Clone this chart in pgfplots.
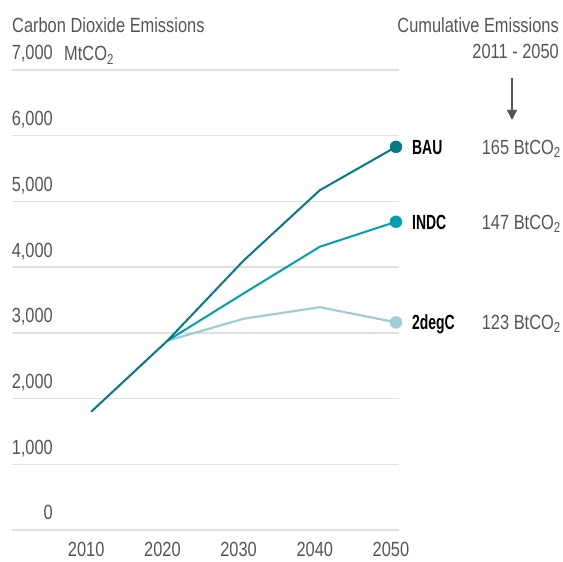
\documentclass[border=0pt]{standalone}
\usepackage{pgfplots}
\pgfplotsset{compat=1.18}
\usetikzlibrary{arrows.meta}
\usepackage{fontspec}
\setmainfont{Liberation Sans}[FakeStretch=0.8, BoldFeatures={FakeStretch=0.68}]
\definecolor{txt}{RGB}{85,85,85}
\definecolor{grid}{RGB}{224,224,224}
\definecolor{bau}{RGB}{0,122,132}
\definecolor{indc}{RGB}{0,160,176}
\definecolor{deg}{RGB}{160,204,214}
\begin{document}
\begin{tikzpicture}[font=\fontsize{20.5}{24}\selectfont, text=txt]
\useasboundingbox (0,0) rectangle (563pt,562pt);
\begin{axis}[
  at={(12pt,32pt)}, anchor=south west,
  scale only axis, width=387pt, height=460pt,
  xmin=1999.6, xmax=2050.4, ymin=0, ymax=7000,
  clip=false,
  axis line style={draw=none},
  major tick length=0pt,
  ymajorgrids, grid style={draw=grid, line width=1.3pt},
  ytick={0,1000,2000,3000,4000,5000,6000,7000},
  yticklabels={0,{1,000},{2,000},{3,000},{4,000},{5,000},{6,000},{7,000}},
  xtick={2010,2020,2030,2040,2050},
  xticklabels={2010,2020,2030,2040,2050},
  yticklabel style={inner sep=0pt, anchor=base east, xshift=41pt, yshift=10pt, text=txt},
  xticklabel style={inner sep=0pt, anchor=base, xshift=-5pt, yshift=-27pt, text=txt},
]
\addplot[deg, line width=2.2pt] coordinates {(2020,2880)(2030,3215)(2040,3390)(2050,3160)};
\addplot[indc, line width=2pt] coordinates {(2020,2880)(2030,3600)(2040,4310)(2050,4690)};
\addplot[bau, line width=2pt] coordinates {(2010,1800)(2020,2880)(2030,4100)(2040,5170)(2050,5830)};
\addplot[only marks, mark=*, mark size=6pt, deg, mark options={draw=deg, fill=deg}] coordinates {(2050,3160)};
\addplot[only marks, mark=*, mark size=6pt, indc, mark options={draw=indc, fill=indc}] coordinates {(2050,4690)};
\addplot[only marks, mark=*, mark size=6pt, bau, mark options={draw=bau, fill=bau}] coordinates {(2050,5830)};
\node[anchor=base west, inner sep=0pt, text=black, font=\fontsize{20.5}{24}\selectfont\bfseries, xshift=16pt, yshift=-7.5pt] at (axis cs:2050,5830) {BAU};
\node[anchor=base west, inner sep=0pt, text=black, font=\fontsize{20.5}{24}\selectfont\bfseries, xshift=16pt, yshift=-7.5pt] at (axis cs:2050,4690) {INDC};
\node[anchor=base west, inner sep=0pt, text=black, font=\fontsize{20.5}{24}\selectfont\bfseries, xshift=16pt, yshift=-7.5pt] at (axis cs:2050,3160) {2degC};
\node[anchor=base east, inner sep=0pt, xshift=165pt, yshift=-7.5pt] at (axis cs:2050,5830) {165 BtCO\textsubscript{2}};
\node[anchor=base east, inner sep=0pt, xshift=165pt, yshift=-7.5pt] at (axis cs:2050,4690) {147 BtCO\textsubscript{2}};
\node[anchor=base east, inner sep=0pt, xshift=165pt, yshift=-7.5pt] at (axis cs:2050,3160) {123 BtCO\textsubscript{2}};
\end{axis}
\node[anchor=base west, inner sep=0pt] at (12pt,529pt) {Carbon Dioxide Emissions};
\node[anchor=base west, inner sep=0pt] at (64pt,501pt) {MtCO\textsubscript{2}};
\node[anchor=base east, inner sep=0pt] at (559pt,529pt) {Cumulative Emissions};
\node[anchor=base east, inner sep=0pt] at (559pt,503pt) {2011 - 2050};
\draw[txt, line width=1.3pt, -{Triangle[length=10pt,width=10pt]}] (512pt,484pt) -- (512pt,442pt);
\end{tikzpicture}
\end{document}
